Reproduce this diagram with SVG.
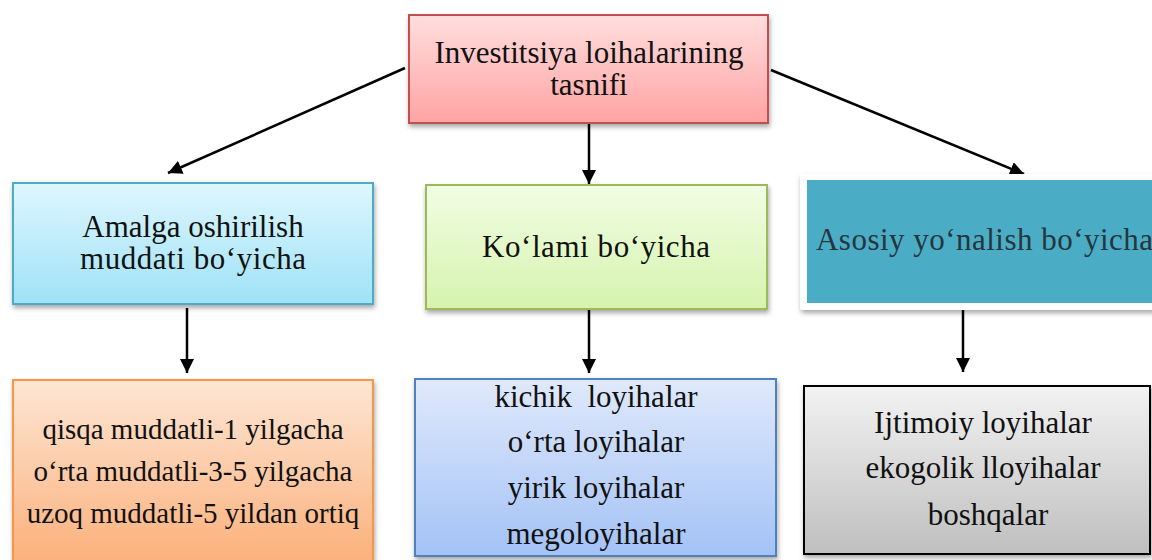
<svg xmlns="http://www.w3.org/2000/svg" width="1152" height="560" viewBox="0 0 1152 560">
<defs>
<linearGradient id="gRed" x1="0" y1="0" x2="0" y2="1"><stop offset="0" stop-color="#ffdede"/><stop offset="1" stop-color="#ffa3a3"/></linearGradient>
<linearGradient id="gCyan" x1="0" y1="0" x2="0" y2="1"><stop offset="0" stop-color="#def6fd"/><stop offset="1" stop-color="#9fe2f7"/></linearGradient>
<linearGradient id="gGreen" x1="0" y1="0" x2="0" y2="1"><stop offset="0" stop-color="#f1fde4"/><stop offset="1" stop-color="#d6f3ad"/></linearGradient>
<linearGradient id="gOrange" x1="0" y1="0" x2="0" y2="1"><stop offset="0" stop-color="#fde6d4"/><stop offset="1" stop-color="#fbae78"/></linearGradient>
<linearGradient id="gBlue" x1="0" y1="0" x2="0" y2="1"><stop offset="0" stop-color="#e0e9fb"/><stop offset="1" stop-color="#a3c2f6"/></linearGradient>
<linearGradient id="gGray" x1="0" y1="0" x2="0" y2="1"><stop offset="0" stop-color="#f2f2f2"/><stop offset="1" stop-color="#bfbfbf"/></linearGradient>
<filter id="sh" x="-10%" y="-10%" width="120%" height="130%"><feDropShadow dx="1" dy="3" stdDeviation="2.5" flood-color="#000" flood-opacity="0.35"/></filter>
<marker id="ah" viewBox="0 0 10 10" refX="10" refY="5" markerWidth="14" markerHeight="14" markerUnits="userSpaceOnUse" orient="auto"><path d="M0,0 L10,5 L0,10 z" fill="#000"/></marker>
</defs>
<style>
.conn line{stroke:#000;stroke-width:2.5;marker-end:url(#ah)}
</style>
<rect width="1152" height="560" fill="#fff"/>
<g class="conn">
<line x1="405" y1="68" x2="168" y2="173"/>
<line x1="771" y1="70" x2="1024" y2="174"/>
<line x1="589" y1="123" x2="589" y2="184"/>
<line x1="187" y1="308" x2="187" y2="373"/>
<line x1="589" y1="310" x2="589" y2="373"/>
<line x1="963" y1="310" x2="963" y2="372"/>
</g>
<g id="n-root">
<rect x="409" y="15" width="359" height="108" fill="url(#gRed)" stroke="#c0504d" stroke-width="2" filter="url(#sh)"/>
<text x="589" y="63" text-anchor="middle" fill="#111" style="font-family:'Liberation Serif',serif;font-size:31px">Investitsiya loihalarining</text>
<text x="589" y="95" text-anchor="middle" fill="#111" style="font-family:'Liberation Serif',serif;font-size:31px">tasnifi</text>
</g>
<g id="n-muddat">
<rect x="13" y="183" width="360" height="121" fill="url(#gCyan)" stroke="#4bacc6" stroke-width="2" filter="url(#sh)"/>
<text x="193" y="237" text-anchor="middle" fill="#111" style="font-family:'Liberation Serif',serif;font-size:31px">Amalga oshirilish</text>
<text x="193" y="269" text-anchor="middle" fill="#111" textLength="226" lengthAdjust="spacing" style="font-family:'Liberation Serif',serif;font-size:31px">muddati bo‘yicha</text>
</g>
<g id="n-kolam">
<rect x="426" y="185" width="341" height="124" fill="url(#gGreen)" stroke="#9bbb59" stroke-width="2" filter="url(#sh)"/>
<text x="596" y="257" text-anchor="middle" fill="#111" textLength="228" lengthAdjust="spacing" style="font-family:'Liberation Serif',serif;font-size:31px">Ko‘lami bo‘yicha</text>
</g>
<g id="n-asosiy">
<rect x="800" y="174" width="360" height="136" rx="3" fill="#fff" filter="url(#sh)"/>
<rect x="807" y="180" width="350" height="123" fill="#4bacc6"/>
<text x="816" y="250" text-anchor="start" fill="#25363c" textLength="337" lengthAdjust="spacing" style="font-family:'Liberation Serif',serif;font-size:31px">Asosiy yo‘nalish bo‘yicha</text>
</g>
<g id="n-muddat-list">
<rect x="13" y="380" width="360" height="190" fill="url(#gOrange)" stroke="#f79646" stroke-width="2" filter="url(#sh)"/>
<text x="193" y="439" text-anchor="middle" fill="#111" style="font-family:'Liberation Serif',serif;font-size:29px">qisqa muddatli-1 yilgacha</text>
<text x="193" y="481" text-anchor="middle" fill="#111" style="font-family:'Liberation Serif',serif;font-size:29px">o‘rta muddatli-3-5 yilgacha</text>
<text x="193" y="523" text-anchor="middle" fill="#111" style="font-family:'Liberation Serif',serif;font-size:29px">uzoq muddatli-5 yildan ortiq</text>
</g>
<g id="n-kolam-list">
<rect x="415" y="379" width="361" height="177" fill="url(#gBlue)" stroke="#4f81bd" stroke-width="2" filter="url(#sh)"/>
<text x="596" y="407" text-anchor="middle" fill="#111" xml:space="preserve" style="font-family:'Liberation Serif',serif;font-size:31px">kichik  loyihalar</text>
<text x="596" y="452" text-anchor="middle" fill="#111" style="font-family:'Liberation Serif',serif;font-size:31px">o‘rta loyihalar</text>
<text x="596" y="498" text-anchor="middle" fill="#111" style="font-family:'Liberation Serif',serif;font-size:31px">yirik loyihalar</text>
<text x="596" y="544" text-anchor="middle" fill="#111" style="font-family:'Liberation Serif',serif;font-size:31px">megoloyihalar</text>
</g>
<g id="n-asosiy-list">
<rect x="804" y="386" width="346" height="168" fill="url(#gGray)" stroke="#000" stroke-width="2" filter="url(#sh)"/>
<text x="983" y="433" text-anchor="middle" fill="#111" style="font-family:'Liberation Serif',serif;font-size:31px">Ijtimoiy loyihalar</text>
<text x="983" y="478" text-anchor="middle" fill="#111" style="font-family:'Liberation Serif',serif;font-size:31px">ekogolik lloyihalar</text>
<text x="988" y="525" text-anchor="middle" fill="#111" style="font-family:'Liberation Serif',serif;font-size:31px">boshqalar</text>
</g>
</svg>
